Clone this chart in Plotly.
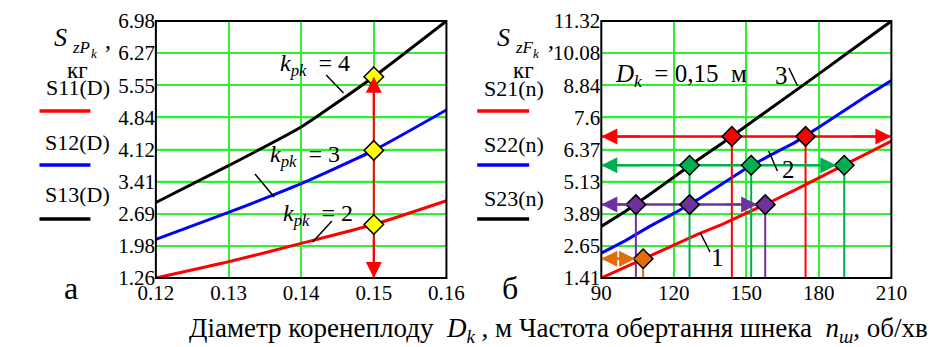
import plotly.graph_objects as go

# ---------------- data ----------------
D = [0.12, 0.13, 0.14, 0.15, 0.16]
S11 = [1.26, 1.62, 2.03, 2.45, 2.98]
S12 = [2.12, 2.72, 3.36, 4.10, 5.00]
S13 = [2.94, 3.76, 4.62, 5.74, 6.98]
D_mark_idx = 3  # D = 0.15

n = [90, 100, 110, 120, 130, 140, 150, 160, 170, 180, 190, 200, 210]
S21 = [1.41, 1.83, 2.27, 2.70, 3.10, 3.48, 3.90, 4.34, 4.80, 5.27, 5.73, 6.20, 6.69]
S22 = [2.37, 2.85, 3.40, 3.90, 4.44, 5.03, 5.64, 6.15, 6.63, 7.22, 7.85, 8.45, 9.02]
S23 = [3.40, 3.98, 4.63, 5.31, 5.97, 6.61, 7.27, 7.94, 8.60, 9.28, 9.96, 10.64, 11.32]

red_n = [144.0, 174.5]
red_S = 6.87
green_n = [126.5, 152.0, 190.5]
green_S = 5.76
purple_n = [104.3, 126.5, 157.8]
purple_drop = [104.3, 157.8]
purple_S = 4.24
orange_n = [107.3]
orange_S = 2.15

x1_ticks = [0.12, 0.13, 0.14, 0.15, 0.16]
x1_text = ["0.12", "0.13", "0.14", "0.15", "0.16"]
y1_ticks = [1.26, 1.975, 2.69, 3.405, 4.12, 4.835, 5.55, 6.265, 6.98]
y1_text = ["1.26", "1.98", "2.69", "3.41", "4.12", "4.84", "5.55", "6.27", "6.98"]
x2_ticks = [90, 120, 150, 180, 210]
x2_text = ["90", "120", "150", "180", "210"]
y2_ticks = [1.41, 2.649, 3.888, 5.126, 6.365, 7.604, 8.843, 10.081, 11.32]
y2_text = ["1.41", "2.65", "3.89", "5.13", "6.37", "7.6", "8.84", "10.08", "11.32"]

# ---------------- style ----------------
FONT = "Liberation Serif"
RED = "#ff0000"
BLUE = "#0000ff"
BLACK = "#000000"
GREEN = "#00b050"
PURPLE = "#7030a0"
ORANGE = "#e36c0a"
YELLOW = "#ffff00"
GRID = "#33ee33"

W, H = 949, 347
TOP, BOT = 13, 270


def px(x):
    return x / W


def py(y):
    return (BOT - y) / (BOT - TOP)


fig = go.Figure()


def hgrid(xt, yt, xa, ya):
    X, Y = [], []
    for v in yt[1:-1]:
        X += [xt[0], xt[-1], None]
        Y += [v, v, None]
    fig.add_trace(go.Scatter(x=X, y=Y, mode="lines", line=dict(color=GRID, width=1.6),
                             xaxis=xa, yaxis=ya, hoverinfo="skip"))


hgrid(x1_ticks, y1_ticks, "x", "y")
hgrid(x2_ticks, y2_ticks, "x2", "y2")

# left panel curves
for s, c in [(S11, RED), (S12, BLUE), (S13, BLACK)]:
    fig.add_trace(go.Scatter(x=D, y=s, mode="lines", line=dict(color=c, width=3, shape="spline", smoothing=0.5),
                             xaxis="x", yaxis="y", hoverinfo="skip"))
# left vertical red guide
fig.add_trace(go.Scatter(x=[D[D_mark_idx], D[D_mark_idx]], y=[y1_ticks[0], S13[D_mark_idx]], mode="lines",
                         line=dict(color=RED, width=2), xaxis="x", yaxis="y", hoverinfo="skip"))
fig.add_trace(go.Scatter(x=[D[D_mark_idx]] * 3, y=[S11[D_mark_idx], S12[D_mark_idx], S13[D_mark_idx]],
                         mode="markers", marker=dict(symbol="diamond", size=15, color=YELLOW,
                                                     line=dict(color=BLACK, width=1.5)),
                         xaxis="x", yaxis="y", hoverinfo="skip"))

# right panel curves
for s, c in [(S21, RED), (S22, BLUE), (S23, BLACK)]:
    fig.add_trace(go.Scatter(x=n, y=s, mode="lines", line=dict(color=c, width=3),
                             xaxis="x2", yaxis="y2", hoverinfo="skip"))

ymin2 = y2_ticks[0]
xmin2, xmax2 = x2_ticks[0], x2_ticks[-1]


def vlines(xs, level):
    X, Y = [], []
    for v in xs:
        X += [v, v, None]
        Y += [level, ymin2, None]
    return X, Y


guides = [
    ([xmin2, xmax2], red_S, red_n, RED),
    ([xmin2, green_n[-1]], green_S, green_n, GREEN),
    ([xmin2, purple_n[-1]], purple_S, purple_drop, PURPLE),
    ([xmin2, orange_n[-1]], orange_S, orange_n, ORANGE),
]
for hx, lvl, drops, c in guides:
    fig.add_trace(go.Scatter(x=hx, y=[lvl, lvl], mode="lines", line=dict(color=c, width=2.5),
                             xaxis="x2", yaxis="y2", hoverinfo="skip"))
    X, Y = vlines(drops, lvl)
    fig.add_trace(go.Scatter(x=X, y=Y, mode="lines", line=dict(color=c, width=2),
                             xaxis="x2", yaxis="y2", hoverinfo="skip"))

for xs, lvl, c in [(red_n, red_S, RED), (green_n, green_S, GREEN), (purple_n, purple_S, PURPLE),
                   (orange_n, orange_S, ORANGE)]:
    fig.add_trace(go.Scatter(x=xs, y=[lvl] * len(xs), mode="markers",
                             marker=dict(symbol="diamond", size=15, color=c, line=dict(color=BLACK, width=1.5)),
                             xaxis="x2", yaxis="y2", hoverinfo="skip"))

annotations = []


def head(x, y, ax, ay, color, xr="x2", yr="y2", standoff=0):
    annotations.append(dict(x=x, y=y, xref=xr, yref=yr, ax=ax, ay=ay, text="", showarrow=True,
                            arrowhead=2, arrowsize=1.6, arrowwidth=2, arrowcolor=color, standoff=standoff))


# left arrow heads
head(D[D_mark_idx], S13[D_mark_idx], 0, 40, RED, "x", "y")
head(D[D_mark_idx], y1_ticks[0], 0, -40, RED, "x", "y")
# right arrow heads
head(xmin2, red_S, 40, 0, RED)
head(xmax2, red_S, -40, 0, RED)
head(xmin2, green_S, 40, 0, GREEN)
head(green_n[-1], green_S, -40, 0, GREEN, standoff=8)
head(xmin2, purple_S, 40, 0, PURPLE)
head(purple_n[-1], purple_S, -40, 0, PURPLE, standoff=8)
head(xmin2, orange_S, 30, 0, ORANGE)
head(orange_n[-1], orange_S, -30, 0, ORANGE, standoff=8)


def text(x, y, s, size=22, xanchor="center"):
    annotations.append(dict(x=px(x), y=py(y), xref="paper", yref="paper", text=s, showarrow=False,
                            xanchor=xanchor, yanchor="middle", font=dict(family=FONT, size=size, color="black")))


kp = "<i>k</i><sub><i>pk</i></sub>&nbsp;&nbsp;= "
text(300, 57, kp + "4", 24)
text(290, 148, kp + "3", 24)
text(303, 207, kp + "2", 24)
text(610, 67, "<i>D</i><sub><i>k</i></sub>&nbsp;&nbsp;= 0,15&nbsp;&nbsp;м", 25, "left")
text(785, 67, "3", 25)
text(793, 162, "2", 25)
text(719, 249, "1", 25)

text(27, 30, "<i>S</i>", 26, "left")
text(46, 40, "<i>zP</i>", 17, "left")
text(65, 45, "<i>k</i>", 13, "left")
text(80, 32, ",", 24, "left")
text(54, 63, "кг", 23)
text(54, 79, "S11(D)", 22)
text(54, 134, "S12(D)", 22)
text(54, 186, "S13(D)", 22)

text(487, 30, "<i>S</i>", 26, "left")
text(506, 40, "<i>zF</i>", 17, "left")
text(525, 45, "<i>k</i>", 13, "left")
text(540, 32, ",", 24, "left")
text(517, 63, "кг", 23)
text(507, 81, "S21(n)", 22)
text(507, 136, "S22(n)", 22)
text(507, 190, "S23(n)", 22)

text(47, 280, "а", 32)
text(503, 280, "б", 32)
text(553, 322, "Діаметр коренеплоду&nbsp;&nbsp;<i>D</i><sub><i>k</i></sub> , м Частота обертання шнека&nbsp;&nbsp;<i>n</i><sub><i>ш</i></sub>, об/хв", 27)

shapes = []


def seg(x0, y0, x1, y1, color=BLACK, w=1.5):
    shapes.append(dict(type="line", xref="paper", yref="paper", x0=px(x0), y0=py(y0), x1=px(x1), y1=py(y1),
                       line=dict(color=color, width=w)))


# plot frames
for xa, ya in [("x", "y"), ("x2", "y2")]:
    shapes.append(dict(type="rect", xref=xa + " domain", yref=ya + " domain", x0=0, x1=1, y0=0, y1=1,
                       line=dict(color=BLACK, width=2), fillcolor="rgba(0,0,0,0)", layer="above"))

# legend sample lines
seg(14, 103, 67, 103, RED, 3.5)
seg(14, 157, 67, 157, BLUE, 3.5)
seg(14, 211, 67, 211, BLACK, 3.5)
seg(469, 103, 523, 103, RED, 3.5)
seg(469, 157, 523, 157, BLUE, 3.5)
seg(469, 211, 523, 211, BLACK, 3.5)
# leader lines
seg(312, 67, 330, 85)
seg(238, 166, 258, 189)
seg(318, 213, 298, 234)
seg(793, 60, 802, 78)
seg(772, 143, 781, 163)
seg(701, 225, 711, 244)

axis_common = dict(showline=False, showgrid=True, gridcolor=GRID, gridwidth=1.6, zeroline=False,
                   tickfont=dict(family=FONT, size=21, color="black"))

fig.update_layout(
    width=W, height=H, autosize=False,
    font=dict(family=FONT, color="black"),
    margin=dict(l=0, r=0, t=TOP, b=H - BOT, pad=0),
    paper_bgcolor="white", plot_bgcolor="white", showlegend=False,
    xaxis=dict(domain=[px(135), px(437)], range=[x1_ticks[0], x1_ticks[-1]], tickvals=x1_ticks,
               ticktext=x1_text, anchor="y", **axis_common),
    yaxis=dict(domain=[0, 1], range=[y1_ticks[0], y1_ticks[-1]], tickvals=y1_ticks, ticktext=y1_text,
               anchor="x", **axis_common),
    xaxis2=dict(domain=[px(598), px(899.5)], range=[xmin2, xmax2], tickvals=x2_ticks, ticktext=x2_text,
                anchor="y2", **axis_common),
    yaxis2=dict(domain=[0, 1], range=[y2_ticks[0], y2_ticks[-1]], tickvals=y2_ticks, ticktext=y2_text,
                anchor="x2", **axis_common),
    annotations=annotations, shapes=shapes,
)

fig.write_html("out.html")
